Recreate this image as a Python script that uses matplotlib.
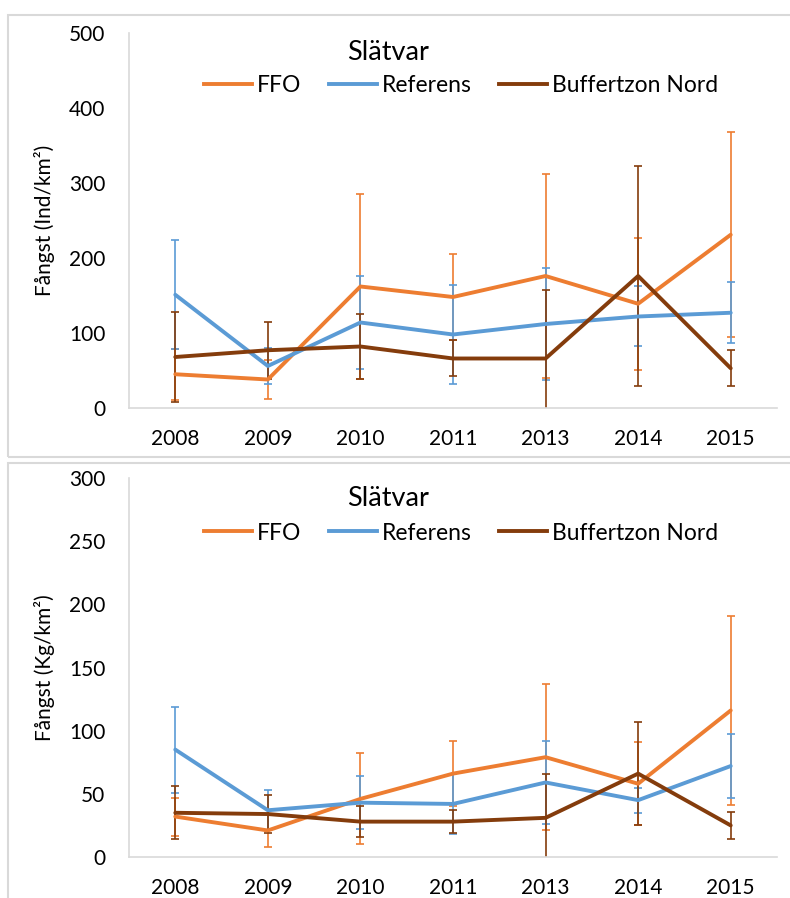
import matplotlib
matplotlib.use("Agg")
import matplotlib.pyplot as plt
from matplotlib.patches import Rectangle
from matplotlib.lines import Line2D

plt.rcParams['font.family'] = ['Lato', 'DejaVu Sans']

years = ['2008', '2009', '2010', '2011', '2013', '2014', '2015']
series_names = ['FFO', 'Referens', 'Buffertzon Nord']
colors = ['#ED7D31', '#5B9BD5', '#843C0C']

# Top panel: Ind/km2
ffo_ind = [45, 38, 162, 148, 176, 139, 231]
ffo_ind_err = [34, 26, 123, 57, 136, 88, 137]
ref_ind = [151, 56, 114, 98, 112, 122, 127]
ref_ind_err = [73, 24, 62, 66, 75, 40, 41]
buf_ind = [68, 77, 82, 66, 66, 176, 53]
buf_ind_err = [60, 38, 43, 24, 91, 147, 24]

# Bottom panel: Kg/km2
ffo_kg = [32, 21, 46, 66, 79, 58, 116]
ffo_kg_err = [15, 13, 36, 26, 58, 33, 75]
ref_kg = [85, 37, 43, 42, 59, 45, 72]
ref_kg_err = [34, 16, 21, 24, 33, 10, 25]
buf_kg = [35, 34, 28, 28, 31, 66, 25]
buf_kg_err = [21, 15, 12, 9, 35, 41, 11]

W, H = 790, 898
fig = plt.figure(figsize=(W / 100, H / 100), dpi=100)


def px_rect(l, t, r, b):
    return [l / W, 1 - b / H, (r - l) / W, (b - t) / H]


# panel frames
for (t, b) in [(15, 457), (463, 910)]:
    fig.patches.append(Rectangle((8 / W, 1 - b / H), (800 - 8) / W, (b - t) / H,
                                 transform=fig.transFigure, fill=False,
                                 edgecolor='#D9D9D9', linewidth=1.5))


def draw_panel(ax, data, errs, ymax, ystep, ylabel, title_y, legend_y):
    x = list(range(len(years)))
    for vals, err, col in zip(data, errs, colors):
        ax.errorbar(x, vals, yerr=err, color=col, linewidth=2.8,
                    elinewidth=1.2, capsize=3, capthick=1.2, solid_capstyle='round')
    ax.set_xlim(-0.5, len(years) - 0.5)
    ax.set_ylim(0, ymax)
    ax.set_yticks(range(0, ymax + 1, ystep))
    ax.set_xticks(x)
    ax.set_xticklabels(years)
    ax.tick_params(axis='both', length=0, labelsize=15, colors='#000000')
    ax.tick_params(axis='y', pad=17)
    ax.tick_params(axis='x', pad=15)
    for s in ['top', 'right']:
        ax.spines[s].set_visible(False)
    ax.spines['left'].set_color('#D9D9D9')
    ax.spines['bottom'].set_color('#D9D9D9')
    ax.spines['left'].set_linewidth(1.2)
    ax.spines['bottom'].set_linewidth(1.2)
    ax.set_ylabel(ylabel, fontsize=15)
    ax.yaxis.set_label_coords(-0.114, 0.5)
    fig.text(388 / W, 1 - title_y / H, 'Slätvar', fontsize=19.5, ha='center', va='center')
    handles = [Line2D([0], [0], color=c, linewidth=2.8) for c in colors]
    fig.legend(handles, series_names, loc='center', bbox_to_anchor=(461 / W, 1 - legend_y / H),
               ncol=3, frameon=False, fontsize=16.5, handlelength=2.1, handletextpad=0.2,
               columnspacing=1.2, borderpad=0, borderaxespad=0)


ax1 = fig.add_axes(px_rect(129, 33, 777, 408))
draw_panel(ax1, [ffo_ind, ref_ind, buf_ind], [ffo_ind_err, ref_ind_err, buf_ind_err],
           500, 100, 'Fångst (Ind/km²)', 53, 86)

ax2 = fig.add_axes(px_rect(129, 478, 777, 857))
draw_panel(ax2, [ffo_kg, ref_kg, buf_kg], [ffo_kg_err, ref_kg_err, buf_kg_err],
           300, 50, 'Fångst (Kg/km²)', 499, 533)

fig.savefig('out.png', dpi=100)
